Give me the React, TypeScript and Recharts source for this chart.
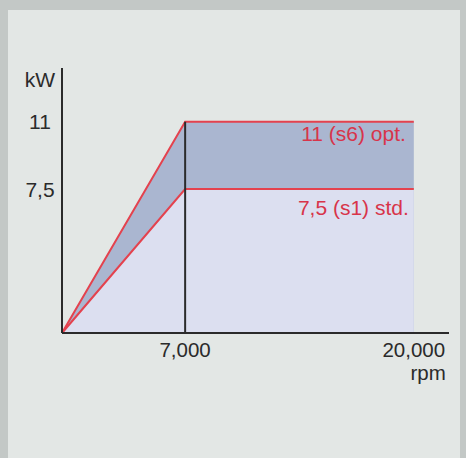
import React from 'react';
import { AreaChart, Area, XAxis, YAxis, ReferenceLine, LabelList } from 'recharts';

const rpm = [0, 7000, 20000];
const optKw = [0, 11, 11];
const stdKw = [0, 7.5, 7.5];
const xTicks = [7000, 20000];
const yTicks = [7.5, 11];
const optName = '11 (s6) opt.';
const stdName = '7,5 (s1) std.';
const xUnit = 'rpm';
const yUnit = 'kW';
const cornerRpm = 7000;

const data = rpm.map((r, i) => ({ rpm: r, opt: optKw[i], std: stdKw[i] }));

const FONT = '"Liberation Sans", Arial, Helvetica, sans-serif';
const INK = '#2b2b2b';
const RED = '#e4424e';
const LABEL_RED = '#d8344a';

const fmtX = (v: number) => v.toLocaleString('en-US');
const fmtY = (v: number) => String(v).replace('.', ',');

const XTick = (props: any) => {
  const { x, y, payload } = props;
  const last = payload.value === xTicks[xTicks.length - 1];
  // unit goes under the last tick, inside the same text node
  return (
    <text y={y + 16} fill={INK} fontSize={20.5} fontFamily={FONT}>
      <tspan x={x} textAnchor="middle">
        {fmtX(payload.value)}
      </tspan>
      {last && (
        <tspan x={x + 32} dy={23} textAnchor="end">
          {xUnit}
        </tspan>
      )}
    </text>
  );
};

const YTick = (props: any) => {
  const { x, y, payload } = props;
  return (
    <text x={x - 14} y={y} dy="0.36em" textAnchor="middle" fill={INK} fontSize={21} fontFamily={FONT}>
      {fmtY(payload.value)}
    </text>
  );
};

const endLabel = (text: string, dx: number, dy: number) => (props: any) => {
  const { index } = props;
  if (index !== data.length - 1) return null;
  const x = props.x ?? props.viewBox?.x;
  const y = props.y ?? props.viewBox?.y;
  return (
    <text x={x + dx} y={y + dy} textAnchor="end" fill={LABEL_RED} fontSize={21} fontFamily={FONT}>
      {text}
    </text>
  );
};

export default function App() {
  return (
    <div style={{ position: 'fixed', left: 0, top: 0, width: 466, height: 458, background: '#c3c8c6', overflow: 'hidden' }}>
      <div style={{ position: 'absolute', left: 8, top: 10, width: 452, height: 460, background: '#e3e7e5' }} />
      <div style={{ position: 'absolute', left: 0, top: 0 }}>
        <AreaChart width={466} height={458} data={data} margin={{ top: 68, right: 17, left: 8, bottom: 65 }}>
          <XAxis
            type="number"
            dataKey="rpm"
            domain={[0, 22000]}
            ticks={xTicks}
            tickLine={false}
            axisLine={{ stroke: INK, strokeWidth: 2 }}
            tick={XTick}
            height={60}
          />
          <YAxis
            type="number"
            domain={[0, 13.8]}
            ticks={yTicks}
            tickLine={false}
            axisLine={{ stroke: INK, strokeWidth: 2 }}
            tick={YTick}
            width={54}
            label={(p: any) => (
              <text
                x={p.viewBox.x + p.viewBox.width - 22}
                y={p.viewBox.y + 19}
                textAnchor="middle"
                fill={INK}
                fontSize={21}
                fontFamily={FONT}
              >
                {yUnit}
              </text>
            )}
          />
          <Area
            type="linear"
            dataKey="opt"
            stroke={RED}
            strokeWidth={2}
            fill="#aab6d0"
            fillOpacity={1}
            isAnimationActive={false}
          >
            <LabelList dataKey="opt" content={endLabel(optName, -8, 19)} />
          </Area>
          <Area
            type="linear"
            dataKey="std"
            stroke={RED}
            strokeWidth={2}
            fill="#dcdff0"
            fillOpacity={1}
            isAnimationActive={false}
          >
            <LabelList dataKey="std" content={endLabel(stdName, -5, 26)} />
          </Area>
          <ReferenceLine
            segment={[
              { x: cornerRpm, y: 0 },
              { x: cornerRpm, y: optKw[1] },
            ]}
            stroke={INK}
            strokeWidth={2}
          />
        </AreaChart>
      </div>
    </div>
  );
}
